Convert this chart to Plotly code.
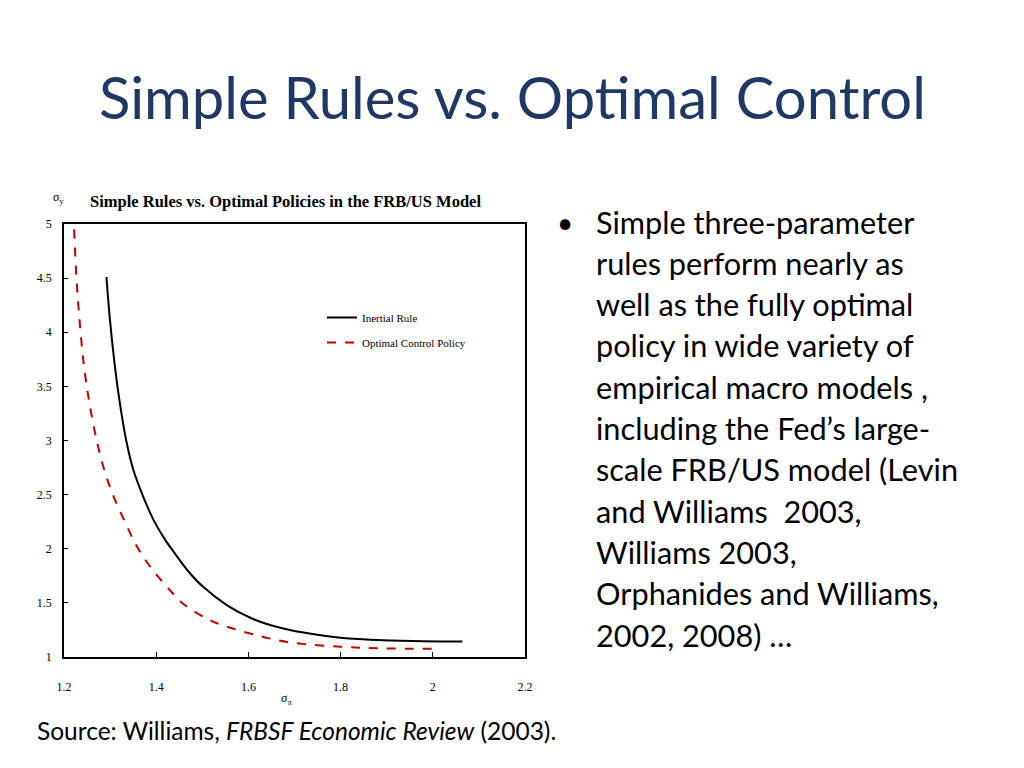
import plotly.graph_objects as go

# ---- data ----
inertial_x = [1.292, 1.300, 1.310, 1.321, 1.335, 1.351, 1.372, 1.395, 1.420, 1.440, 1.470, 1.500, 1.553, 1.603, 1.640, 1.690, 1.750, 1.800, 1.893, 1.980, 2.064]
inertial_y = [4.51, 4.10, 3.70, 3.35, 3.00, 2.72, 2.48, 2.26, 2.08, 1.96, 1.79, 1.655, 1.48, 1.365, 1.305, 1.25, 1.205, 1.178, 1.155, 1.146, 1.144]

optimal_x = [1.222, 1.227, 1.234, 1.243, 1.255, 1.271, 1.288, 1.306, 1.332, 1.357, 1.386, 1.423, 1.462, 1.517, 1.553, 1.610, 1.690, 1.800, 1.893, 2.008]
optimal_y = [4.95, 4.50, 4.10, 3.70, 3.35, 3.00, 2.72, 2.50, 2.25, 2.03, 1.84, 1.65, 1.48, 1.34, 1.28, 1.21, 1.135, 1.095, 1.080, 1.076]

x_ticks = [1.2, 1.4, 1.6, 1.8, 2.0, 2.2]
y_ticks = [1, 1.5, 2, 2.5, 3, 3.5, 4, 4.5, 5]

ZW = "\u200b"  # breaks the "ti" ligature
slide_title = "Simple Rules vs. Op" + ZW + "timal Control"
chart_title = "Simple Rules vs. Optimal Policies in the FRB/US Model"
bullet_lines = [
    "Simple three-parameter",
    "rules perform nearly as",
    "well as the fully op" + ZW + "timal",
    "policy in wide variety of",
    "empirical macro models ,",
    "including the Fed\u2019s large-",
    "scale FRB/US model (Levin",
    "and Williams\u00a0\u00a02003,",
    "Williams 2003,",
    "Orphanides and Williams,",
    "2002, 2008) \u2026",
]
source_text = "Source: Williams, <i>FRBSF Economic Review</i> (2003)."

W, H = 1024, 768
def px(x):
    return x / W
def py(y):
    return 1 - y / H

serif = "Liberation Serif, Times New Roman, serif"
sans = "Lato, Open Sans, sans-serif"

fig = go.Figure()
fig.add_trace(go.Scatter(x=inertial_x, y=inertial_y, mode="lines", name="Inertial Rule",
                         line=dict(color="black", width=2, shape="spline", smoothing=1.0),
                         legendgroup="a"))
fig.add_trace(go.Scatter(x=optimal_x, y=optimal_y, mode="lines", name="Optimal Control Policy",
                         line=dict(color="#C00000", width=2, dash="dash", shape="spline", smoothing=1.0),
                         legendgroup="b"))

ann = []
ann.append(dict(text=slide_title, x=px(512), y=py(96), xref="paper", yref="paper",
                showarrow=False, xanchor="center", yanchor="middle",
                font=dict(family=sans, size=58, color="#1F3864")))
ann.append(dict(text="<b>" + chart_title + "</b>", x=px(285), y=py(201), xref="paper", yref="paper",
                showarrow=False, xanchor="center", yanchor="middle",
                font=dict(family=serif, size=16.5, color="black")))
ann.append(dict(text="\u03c3<sub>y</sub>", x=px(58), y=py(198), xref="paper", yref="paper",
                showarrow=False, xanchor="center", yanchor="middle",
                font=dict(family=serif, size=12, color="black")))
ann.append(dict(text="\u03c3<sub>\u03c0</sub>", x=px(286), y=py(699), xref="paper", yref="paper",
                showarrow=False, xanchor="center", yanchor="middle",
                font=dict(family=serif, size=12, color="black")))
ann.append(dict(text="\u2022", x=px(565), y=py(222), xref="paper", yref="paper",
                showarrow=False, xanchor="center", yanchor="middle",
                font=dict(family=sans, size=28, color="black")))
for i, line in enumerate(bullet_lines):
    ann.append(dict(text=line, x=px(594), y=py(222 + 41.3 * i), xref="paper", yref="paper",
                    showarrow=False, xanchor="left", yanchor="middle",
                    font=dict(family=sans, size=30.7, color="black")))
ann.append(dict(text=source_text, x=px(35), y=py(730), xref="paper", yref="paper",
                showarrow=False, xanchor="left", yanchor="middle",
                font=dict(family=sans, size=24.5, color="black")))

axis_common = dict(showgrid=False, zeroline=False, showline=True, linecolor="black",
                   linewidth=1.5, mirror=True, ticks="inside", tickcolor="black",
                   automargin=False,
                   tickfont=dict(family=serif, size=12, color="black"))

fig.update_layout(
    width=W, height=H,
    margin=dict(l=0, r=0, t=0, b=0),
    paper_bgcolor="white", plot_bgcolor="white",
    xaxis=dict(domain=[px(64), px(525)], range=[1.2, 2.2], tickvals=x_ticks,
               ticklen=5, ticklabelstandoff=18, **axis_common),
    yaxis=dict(domain=[py(657), py(224)], range=[1, 5], tickvals=y_ticks,
               ticklen=4, ticklabelstandoff=8, **axis_common),
    showlegend=True,
    legend=dict(x=px(322), y=py(303), xanchor="left", yanchor="top",
                bgcolor="rgba(0,0,0,0)", font=dict(family=serif, size=11, color="black"),
                tracegroupgap=6, traceorder="grouped", itemwidth=30),
    annotations=ann,
)

fig.write_html("out.html", config={"displayModeBar": False},
               post_script="document.body.style.margin='0px';document.body.style.overflow='hidden';")
